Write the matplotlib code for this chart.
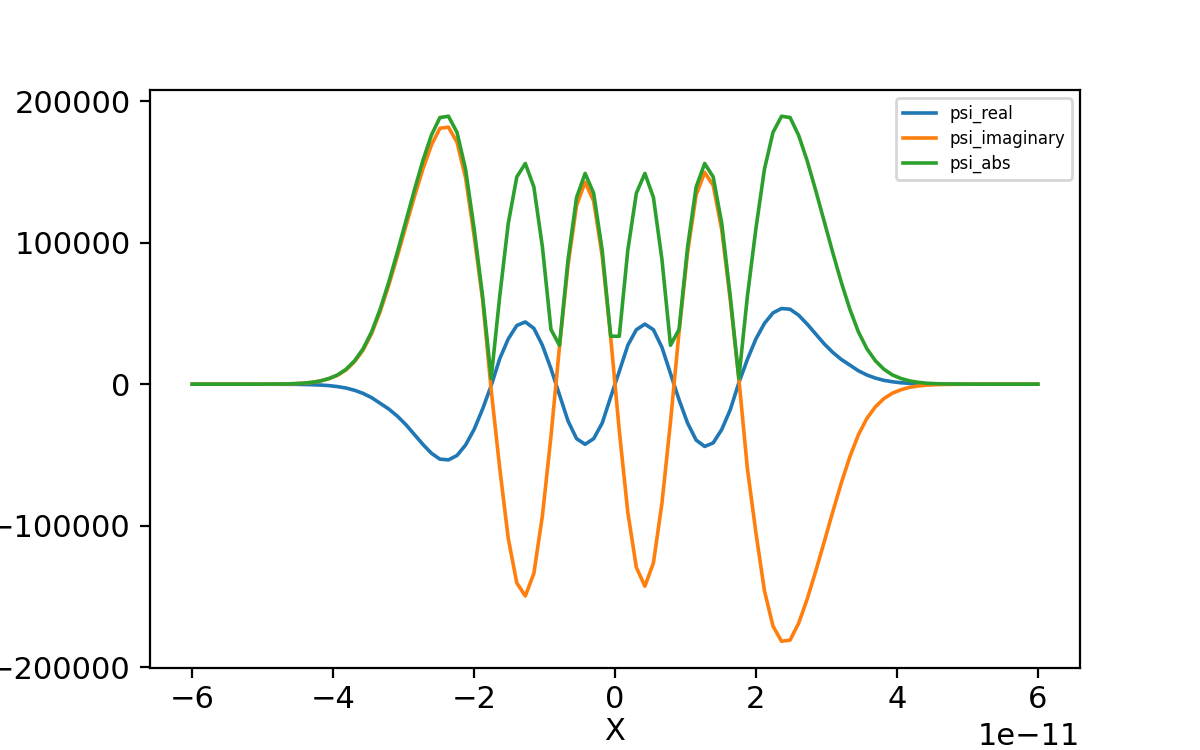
import numpy as np
import matplotlib
matplotlib.use("Agg")
import matplotlib.pyplot as plt

plt.rcParams["font.size"] = 11
plt.rcParams["lines.linewidth"] = 1.3
plt.rcParams["xtick.major.pad"] = 2.8

# sample positions (100 evenly spaced points on [-6e-11, 6e-11])
x = np.linspace(-6e-11, 6e-11, 100)

# values, in thousands
psi_real = [
    0, 0, 0, 0, 0, 0, -0.001, -0.003, -0.007, -0.015,
    -0.03, -0.06, -0.1, -0.2, -0.35, -0.6, -1.0, -1.7, -2.7, -4.3,
    -6.5, -9.5, -13.5, -17.5, -22.5, -28.5, -35.5, -42.5, -48.8, -53,
    -53.5, -50.4, -43, -32, -17.5, -1, 18, 32, 41.5, 44,
    39.5, 27.5, 11, -7.5, -26, -38.5, -42.5, -38.5, -27.5, -9,
    9, 27.5, 38.5, 42.5, 38.5, 26, 7.5, -11, -27.5, -39.5,
    -44, -41.5, -32, -18, 1, 17.5, 32, 43, 50.4, 53.5,
    53, 48.8, 42.5, 35.5, 28.5, 22.5, 17.5, 13.5, 9.5, 6.5,
    4.3, 2.7, 1.7, 1.0, 0.6, 0.35, 0.2, 0.1, 0.06, 0.03,
    0.015, 0.007, 0.003, 0.001, 0, 0, 0, 0, 0, 0,
]
psi_imaginary = [
    0, 0, 0, 0, 0, 0, 0.004, 0.01, 0.02, 0.05,
    0.1, 0.19, 0.37, 0.67, 1.25, 2.2, 3.9, 6.3, 10.1, 15.9,
    24.1, 35.8, 51.3, 69.8, 90.2, 111.4, 132.3, 152, 169, 180.9,
    181.7, 171, 146, 105, 59.5, -4, -59.3, -109, -140.5, -149.7,
    -133.7, -93, -37, 26.5, 84, 126.3, 142.8, 129.5, 90.6, 32.7,
    -32.7, -90.6, -129.5, -142.8, -126.3, -84, -26.5, 37, 93, 133.7,
    149.7, 140.5, 109, 59.3, 4, -59.5, -105, -146, -171, -181.7,
    -180.9, -169, -152, -132.3, -111.4, -90.2, -69.8, -51.3, -35.8, -24.1,
    -15.9, -10.1, -6.3, -3.9, -2.2, -1.25, -0.67, -0.37, -0.19, -0.1,
    -0.05, -0.02, -0.01, -0.004, 0, 0, 0, 0, 0, 0,
]
psi_abs = [
    0, 0, 0, 0, 0, 0, 0.004, 0.01, 0.02, 0.05,
    0.1, 0.2, 0.38, 0.7, 1.3, 2.3, 4, 6.5, 10.5, 16.5,
    25, 37, 53, 72, 93, 115, 137, 158, 176, 188.5,
    189.4, 178, 152, 110, 62, 4.1, 62, 113.6, 146.5, 156,
    139.4, 97, 38.7, 27.5, 88, 132, 149, 135, 94.7, 33.9,
    33.9, 94.7, 135, 149, 132, 88, 27.5, 38.7, 97, 139.4,
    156, 146.5, 113.6, 62, 4.1, 62, 110, 152, 178, 189.4,
    188.5, 176, 158, 137, 115, 93, 72, 53, 37, 25,
    16.5, 10.5, 6.5, 4, 2.3, 1.3, 0.7, 0.38, 0.2, 0.1,
    0.05, 0.02, 0.01, 0.004, 0, 0, 0, 0, 0, 0,
]

fig, ax = plt.subplots(figsize=(6, 3.75), dpi=200)

ax.plot(x, np.array(psi_real) * 1e3, label="psi_real")
ax.plot(x, np.array(psi_imaginary) * 1e3, label="psi_imaginary")
ax.plot(x, np.array(psi_abs) * 1e3, label="psi_abs")

ax.set_yticks([-200000, -100000, 0, 100000, 200000])
ax.set_xlabel("X", labelpad=1)
ax.legend(loc="upper right", fontsize=6, labelspacing=0.4)

fig.savefig("out.png", dpi=200)
